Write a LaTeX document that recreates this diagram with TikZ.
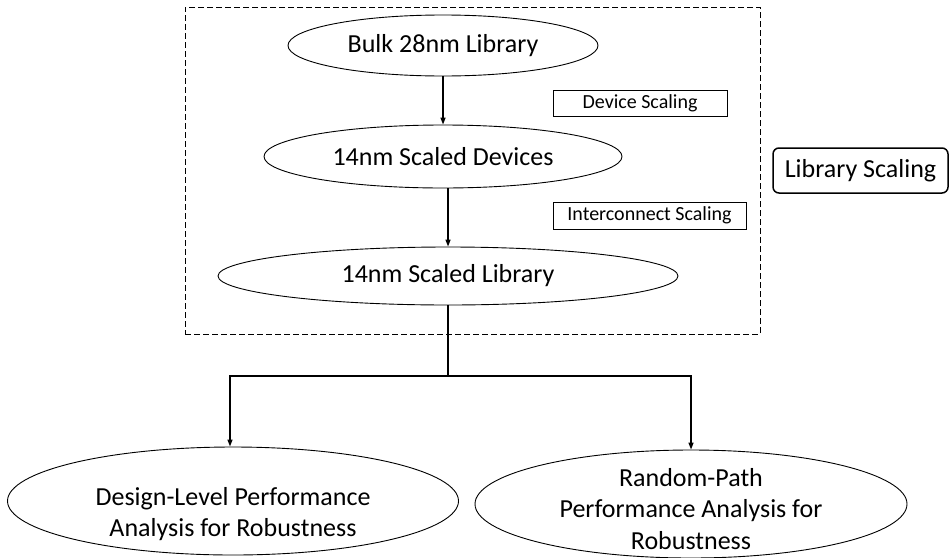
\documentclass[tikz,border=0pt]{standalone}
\usepackage{fontspec}
\setmainfont{Carlito}
\usetikzlibrary{shapes.geometric,arrows.meta}

\tikzset{
  big/.style={font=\fontsize{26}{31.7}\selectfont},
  small/.style={font=\fontsize{20}{24}\selectfont},
  oval/.style={ellipse, draw, line width=0.9pt, inner sep=0pt, big},
  tag/.style={draw, line width=0.9pt, inner sep=0pt, small},
  group/.style={draw, dashed, dash pattern=on 6pt off 3pt, line width=0.9pt, inner sep=0pt},
  wire/.style={line width=1.4pt},
  flow/.style={wire, -{Triangle[length=7pt,width=5pt]}},
}

\begin{document}
\begin{tikzpicture}[x=1pt, y=-1pt]
  \useasboundingbox (0,0) rectangle (949,557);

  % scaling stage enclosed by the dashed frame
  \node (frame) [group, minimum width=575pt, minimum height=327pt] at (472.5,170.5) {};

  \node (bulk) [oval, minimum width=310pt, minimum height=61pt] at (443,45.5) {Bulk 28nm Library};
  \node (dev)  [oval, minimum width=358pt, minimum height=63pt] at (443,156.5) {14nm Scaled Devices};
  \node (lib)  [oval, minimum width=460pt, minimum height=58pt] at (448,276) {14nm Scaled Library};

  \node (devsc) [tag, minimum width=174pt, minimum height=26pt] at (640,103) {Device Scaling};
  \node (intsc) [tag, minimum width=193pt, minimum height=27pt] at (649.5,215.5) {Interconnect Scaling};

  \node (libsc) [draw, line width=1.5pt, rounded corners=6pt, inner sep=0pt,
                 minimum width=175pt, minimum height=45pt, big] at (860.5,170.5) {Library Scaling};

  % analysis targets
  \node (design) [oval, minimum width=451pt, minimum height=108pt] at (233,501) {};
  \node (designtxt) [big, align=center] at (233,514) {Design-Level Performance\\Analysis for Robustness};
  \node (random) [oval, minimum width=432pt, minimum height=108pt] at (691,504) {};
  \node (randomtxt) [big, align=center] at (691,509) {Random-Path\\Performance Analysis for\\Robustness};

  % connectors
  \draw[flow] (bulk.south) -- (dev.north);
  \draw[flow] (dev.south -| lib.north) -- (lib.north);
  \coordinate (split) at (448,376);
  \draw[wire] (lib.south) -- (split);
  \draw[flow] (split) -| ([xshift=-3pt]design.north);
  \draw[flow] (split) -| (random.north);
\end{tikzpicture}
\end{document}
